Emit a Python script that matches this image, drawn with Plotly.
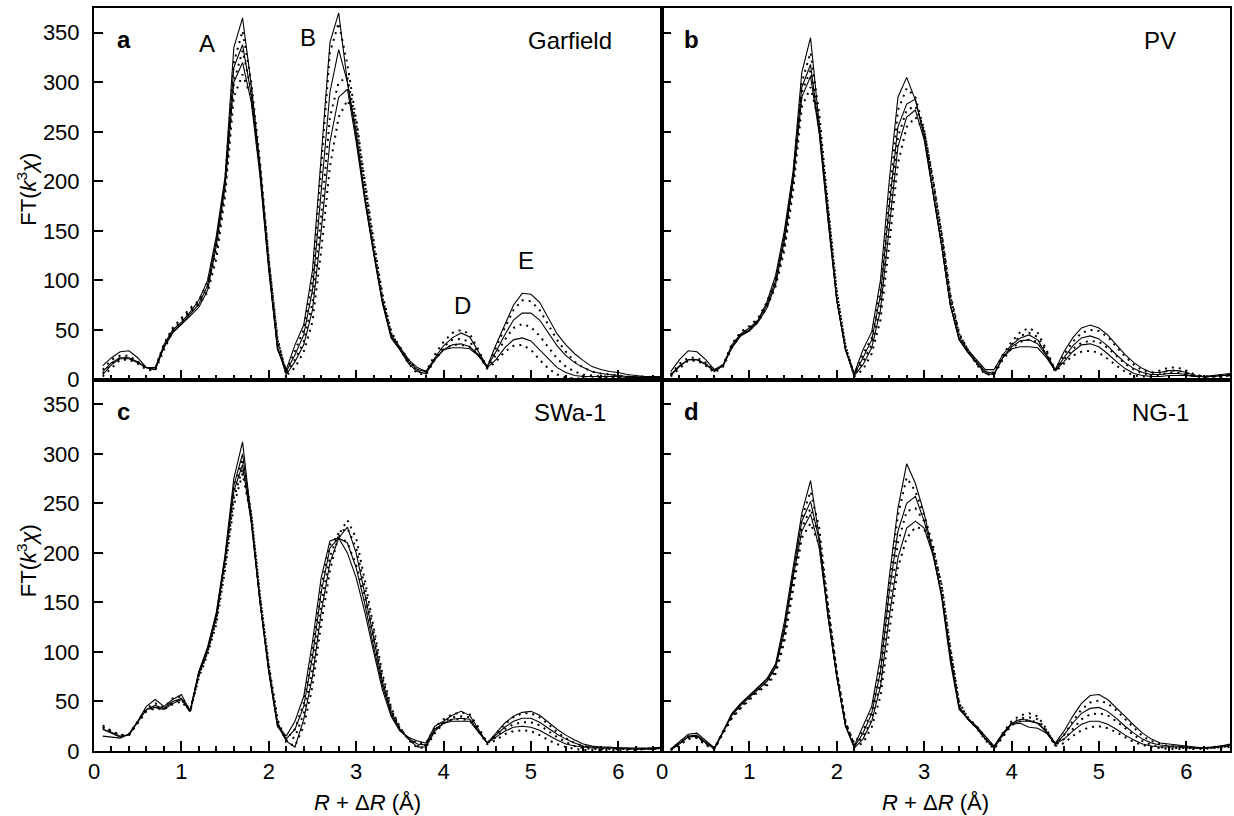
import plotly.graph_objects as go
from plotly.subplots import make_subplots

# R + dR grid (Angstrom)
r = [0.1, 0.2, 0.3, 0.4, 0.5, 0.6, 0.7, 0.8, 0.9, 1.0,
     1.1, 1.2, 1.3, 1.4, 1.5, 1.6, 1.7, 1.8, 1.9, 2.0,
     2.1, 2.2, 2.3, 2.4, 2.5, 2.6, 2.7, 2.8, 2.9, 3.0,
     3.1, 3.2, 3.3, 3.4, 3.5, 3.6, 3.7, 3.8, 3.9, 4.0,
     4.1, 4.2, 4.3, 4.4, 4.5, 4.6, 4.7, 4.8, 4.9, 5.0,
     5.1, 5.2, 5.3, 5.4, 5.5, 5.6, 5.7, 5.8, 5.9, 6.0,
     6.1, 6.2, 6.3, 6.4, 6.5]

# ---- a: Garfield ----
garfield_solid_1 = [14, 22, 28, 29, 22, 12, 12, 35, 50, 58,
                    68, 80, 100, 145, 205, 335, 365, 297, 215, 115,
                    30, 10, 35, 55, 110, 230, 340, 370, 300, 250,
                    185, 130, 80, 45, 33, 20, 12, 8, 22, 34,
                    42, 47, 43, 28, 13, 35, 55, 75, 87, 86,
                    78, 62, 46, 35, 26, 19, 13, 10, 8, 7,
                    5, 4, 3, 3, 3]
garfield_solid_2 = [8, 17, 22, 22, 18, 12, 10, 33, 48, 56,
                    66, 76, 95, 140, 200, 315, 338, 287, 210, 112,
                    32, 8, 25, 45, 90, 190, 290, 333, 300, 245,
                    182, 128, 78, 43, 31, 18, 10, 8, 20, 30,
                    35, 36, 33, 25, 13, 28, 45, 60, 67, 67,
                    60, 47, 34, 24, 17, 12, 8, 6, 5, 4,
                    3, 3, 2, 2, 2]
garfield_solid_3 = [5, 15, 21, 21, 17, 12, 10, 32, 47, 55,
                    64, 73, 90, 135, 195, 300, 320, 280, 205, 110,
                    32, 5, 18, 35, 70, 150, 240, 285, 293, 240,
                    180, 127, 77, 42, 30, 16, 8, 6, 20, 30,
                    32, 32, 31, 24, 12, 20, 32, 40, 42, 39,
                    30, 20, 12, 7, 4, 3, 3, 3, 3, 3,
                    2, 2, 2, 2, 2]
garfield_dotted_1 = [10, 20, 24, 24, 18, 12, 11, 36, 52, 62,
                     72, 80, 98, 138, 200, 320, 352, 300, 220, 122,
                     38, 8, 30, 50, 100, 215, 330, 360, 318, 262,
                     195, 138, 85, 48, 33, 20, 10, 8, 25, 38,
                     47, 50, 46, 30, 12, 32, 52, 70, 80, 79,
                     70, 55, 40, 28, 18, 12, 8, 6, 5, 4,
                     3, 3, 3, 2, 2]
garfield_dotted_2 = [6, 16, 22, 22, 17, 11, 10, 34, 50, 60,
                     70, 78, 93, 130, 193, 300, 332, 292, 215, 120,
                     40, 6, 20, 38, 78, 165, 265, 300, 305, 258,
                     195, 135, 83, 47, 31, 18, 8, 6, 22, 33,
                     40, 41, 38, 27, 12, 25, 40, 52, 56, 53,
                     44, 32, 21, 13, 8, 5, 4, 3, 3, 3,
                     2, 2, 2, 2, 2]
garfield_dotted_3 = [3, 12, 20, 20, 16, 10, 9, 30, 48, 58,
                     68, 76, 88, 122, 185, 285, 308, 285, 212, 120,
                     42, 4, 12, 28, 58, 130, 215, 265, 282, 262,
                     200, 140, 86, 48, 31, 16, 6, 5, 20, 30,
                     35, 35, 33, 25, 11, 18, 28, 34, 35, 30,
                     20, 11, 5, 2, 1, 1, 1, 2, 2, 2,
                     2, 2, 2, 2, 2]

# ---- b: PV ----
pv_solid_1 = [8, 20, 29, 28, 20, 10, 15, 35, 46, 52,
              60, 78, 105, 150, 210, 310, 345, 255, 165, 80,
              30, 6, 30, 48, 100, 200, 285, 305, 282, 248,
              190, 135, 75, 42, 30, 20, 10, 10, 25, 35,
              42, 45, 40, 25, 10, 28, 42, 52, 55, 52,
              45, 35, 25, 17, 11, 7, 7, 9, 9, 7,
              4, 3, 4, 5, 6]
pv_solid_2 = [5, 14, 20, 20, 16, 9, 14, 33, 45, 50,
              60, 75, 100, 145, 205, 295, 318, 250, 162, 80,
              30, 5, 22, 40, 85, 175, 255, 278, 283, 245,
              190, 135, 75, 40, 28, 18, 8, 6, 22, 33,
              39, 40, 36, 24, 9, 22, 34, 42, 44, 41,
              34, 25, 17, 11, 7, 5, 5, 6, 6, 5,
              3, 3, 3, 4, 5]
pv_solid_3 = [4, 13, 20, 20, 15, 8, 14, 32, 44, 49,
              58, 72, 96, 140, 200, 285, 306, 248, 160, 80,
              30, 4, 15, 32, 70, 150, 235, 265, 272, 242,
              190, 135, 75, 40, 27, 16, 6, 5, 22, 31,
              33, 33, 32, 22, 9, 18, 28, 35, 36, 33,
              26, 18, 11, 6, 4, 3, 3, 4, 4, 4,
              3, 3, 3, 4, 4]
pv_dotted_1 = [5, 16, 22, 22, 17, 9, 15, 36, 48, 54,
               62, 78, 102, 140, 205, 300, 330, 268, 175, 88,
               32, 5, 25, 42, 90, 185, 272, 294, 285, 252,
               200, 145, 82, 45, 30, 18, 8, 7, 25, 38,
               48, 52, 47, 30, 9, 25, 38, 47, 50, 49,
               43, 33, 23, 15, 9, 7, 9, 12, 12, 9,
               5, 3, 3, 4, 5]
pv_dotted_2 = [4, 13, 20, 20, 15, 8, 14, 34, 46, 52,
               60, 76, 98, 135, 198, 290, 312, 262, 172, 88,
               33, 4, 18, 35, 75, 160, 245, 272, 276, 252,
               202, 146, 84, 46, 30, 16, 6, 6, 23, 35,
               44, 47, 43, 28, 9, 20, 31, 37, 39, 38,
               32, 24, 16, 10, 6, 5, 7, 9, 9, 7,
               4, 3, 3, 4, 4]
pv_dotted_3 = [3, 11, 19, 19, 14, 7, 13, 32, 45, 50,
               58, 73, 94, 130, 190, 275, 295, 258, 170, 88,
               34, 3, 10, 26, 60, 135, 218, 255, 265, 250,
               203, 148, 86, 47, 30, 15, 5, 5, 20, 31,
               38, 40, 38, 25, 8, 16, 24, 28, 29, 27,
               21, 14, 8, 4, 3, 3, 5, 7, 7, 5,
               3, 2, 3, 3, 4]

# ---- c: SWa-1 ----
swa_solid_1 = [15, 14, 13, 17, 30, 45, 52, 45, 52, 57,
               40, 80, 105, 140, 198, 275, 312, 235, 150, 80,
               25, 15, 30, 55, 110, 175, 212, 215, 200, 175,
               140, 100, 62, 35, 20, 14, 10, 8, 25, 30,
               36, 40, 36, 22, 8, 18, 28, 35, 39, 40,
               36, 29, 22, 16, 11, 7, 5, 4, 4, 3,
               3, 3, 3, 3, 4]
swa_solid_2 = [22, 18, 14, 17, 30, 42, 46, 43, 50, 53,
               40, 80, 103, 138, 196, 268, 300, 233, 150, 80,
               25, 12, 22, 45, 95, 160, 205, 215, 210, 185,
               148, 105, 66, 37, 21, 13, 7, 6, 22, 28,
               32, 33, 32, 20, 8, 16, 24, 30, 33, 33,
               29, 23, 17, 12, 8, 5, 4, 3, 3, 3,
               3, 2, 2, 3, 3]
swa_solid_3 = [22, 19, 15, 16, 29, 42, 44, 42, 48, 52,
               40, 78, 100, 135, 193, 262, 289, 230, 150, 82,
               28, 10, 4, 32, 75, 140, 190, 215, 226, 200,
               158, 112, 70, 40, 22, 12, 4, 4, 20, 28,
               30, 30, 30, 19, 8, 14, 20, 24, 25, 24,
               21, 16, 11, 7, 5, 4, 3, 3, 3, 3,
               2, 2, 2, 2, 3]
swa_dotted_1 = [26, 20, 16, 17, 30, 43, 48, 44, 53, 55,
                41, 78, 102, 135, 192, 262, 295, 240, 156, 85,
                28, 12, 22, 48, 100, 165, 208, 218, 210, 188,
                155, 112, 70, 40, 22, 13, 8, 8, 24, 32,
                37, 39, 37, 24, 8, 17, 27, 34, 38, 38,
                34, 27, 19, 13, 8, 5, 4, 3, 3, 3,
                2, 2, 2, 3, 3]
swa_dotted_2 = [24, 19, 15, 16, 29, 41, 44, 43, 49, 52,
                40, 76, 100, 132, 188, 255, 285, 238, 156, 86,
                30, 10, 14, 38, 82, 148, 196, 220, 225, 205,
                165, 118, 74, 42, 23, 12, 5, 6, 21, 30,
                34, 35, 34, 22, 8, 14, 22, 27, 29, 29,
                26, 20, 14, 9, 5, 3, 2, 2, 2, 2,
                2, 2, 2, 2, 3]
swa_dotted_3 = [24, 20, 16, 16, 28, 40, 43, 42, 47, 50,
                40, 74, 98, 128, 183, 248, 280, 236, 155, 87,
                32, 9, 5, 25, 65, 128, 182, 218, 233, 215,
                172, 124, 78, 44, 24, 11, 3, 4, 18, 28,
                32, 32, 31, 20, 7, 11, 17, 20, 21, 20,
                16, 11, 7, 4, 2, 1, 1, 1, 1, 1,
                1, 1, 2, 2, 2]

# ---- d: NG-1 ----
ng_solid_1 = [2, 10, 17, 18, 10, 3, 20, 38, 48, 56,
              64, 73, 88, 130, 185, 240, 273, 215, 135, 75,
              25, 5, 25, 45, 95, 175, 245, 290, 270, 240,
              200, 155, 90, 42, 33, 25, 15, 5, 18, 28,
              32, 31, 28, 20, 8, 20, 35, 48, 56, 57,
              52, 44, 35, 26, 18, 12, 8, 7, 6, 5,
              4, 3, 4, 5, 7]
ng_solid_2 = [2, 8, 15, 16, 9, 3, 20, 37, 47, 55,
              63, 72, 86, 125, 180, 232, 252, 212, 138, 75,
              25, 4, 18, 38, 80, 160, 222, 250, 257, 232,
              200, 158, 95, 44, 32, 24, 13, 4, 17, 27,
              30, 30, 28, 19, 7, 16, 28, 38, 43, 44,
              40, 33, 25, 18, 12, 8, 6, 5, 5, 4,
              3, 3, 4, 5, 6]
ng_solid_3 = [1, 7, 14, 15, 8, 2, 19, 36, 46, 54,
              62, 70, 84, 120, 175, 222, 239, 205, 136, 75,
              26, 3, 12, 30, 65, 135, 195, 225, 232, 225,
              198, 158, 97, 45, 32, 23, 12, 3, 16, 27,
              28, 24, 23, 18, 7, 12, 20, 27, 30, 30,
              27, 22, 16, 11, 7, 5, 4, 4, 4, 3,
              3, 3, 3, 4, 5]
ng_dotted_1 = [1, 8, 15, 15, 8, 3, 20, 35, 45, 54,
               62, 70, 82, 118, 172, 235, 262, 225, 148, 80,
               28, 8, 20, 40, 85, 168, 238, 276, 262, 238,
               208, 165, 100, 47, 34, 25, 14, 4, 18, 30,
               36, 38, 35, 22, 6, 16, 30, 42, 49, 51,
               48, 41, 32, 23, 15, 10, 7, 5, 4, 4,
               3, 3, 4, 5, 6]
ng_dotted_2 = [1, 7, 13, 14, 7, 2, 19, 34, 44, 53,
               61, 68, 80, 115, 168, 225, 245, 215, 145, 80,
               29, 6, 14, 32, 70, 145, 210, 242, 245, 232,
               206, 166, 102, 48, 33, 24, 12, 3, 16, 28,
               33, 34, 32, 21, 6, 12, 22, 32, 37, 38,
               36, 30, 23, 16, 10, 6, 4, 3, 3, 3,
               3, 3, 3, 4, 5]
ng_dotted_3 = [1, 6, 12, 13, 6, 2, 18, 33, 43, 52,
               60, 66, 78, 110, 162, 215, 230, 208, 142, 80,
               30, 4, 8, 24, 55, 120, 185, 215, 226, 224,
               204, 168, 104, 50, 33, 23, 11, 2, 14, 26,
               30, 31, 29, 20, 5, 8, 15, 21, 24, 25,
               23, 19, 14, 9, 6, 4, 3, 2, 2, 2,
               2, 2, 3, 3, 4]

panels = [
    (1, 1, "a", "Garfield", [garfield_solid_1, garfield_solid_2, garfield_solid_3],
     [garfield_dotted_1, garfield_dotted_2, garfield_dotted_3]),
    (1, 2, "b", "PV", [pv_solid_1, pv_solid_2, pv_solid_3],
     [pv_dotted_1, pv_dotted_2, pv_dotted_3]),
    (2, 1, "c", "SWa-1", [swa_solid_1, swa_solid_2, swa_solid_3],
     [swa_dotted_1, swa_dotted_2, swa_dotted_3]),
    (2, 2, "d", "NG-1", [ng_solid_1, ng_solid_2, ng_solid_3],
     [ng_dotted_1, ng_dotted_2, ng_dotted_3]),
]

# peak labels in panel a
peak_names = ["A", "B", "D", "E"]
peak_r = [1.29, 2.45, 4.22, 4.94]
peak_ft = [339, 345, 75, 120]

FONT = "Liberation Sans, Arial, Helvetica, sans-serif"

fig = make_subplots(rows=2, cols=2, horizontal_spacing=0, vertical_spacing=0)

for row, col, letter, name, solids, dots in panels:
    for ys in dots:
        fig.add_trace(
            go.Scatter(x=r, y=ys, mode="lines",
                       line=dict(color="black", width=2, dash="2px,5px"),
                       showlegend=False, hoverinfo="skip"),
            row=row, col=col,
        )
    for ys in solids:
        fig.add_trace(
            go.Scatter(x=r, y=ys, mode="lines",
                       line=dict(color="black", width=1.1),
                       showlegend=False, hoverinfo="skip"),
            row=row, col=col,
        )
    idx = (row - 1) * 2 + col
    xr = "x" if idx == 1 else f"x{idx}"
    yr = "y" if idx == 1 else f"y{idx}"
    fig.add_annotation(x=0.34, y=343, xref=xr, yref=yr, text=f"<b>{letter}</b>",
                       showarrow=False, font=dict(family=FONT, size=24, color="black"))
    fig.add_annotation(x=5.45 if col == 1 else 5.7, y=342, xref=xr, yref=yr, text=name,
                       showarrow=False, font=dict(family=FONT, size=24, color="black"))

for txt, px, py in zip(peak_names, peak_r, peak_ft):
    fig.add_annotation(x=px, y=py, xref="x", yref="y", text=txt, showarrow=False,
                       font=dict(family=FONT, size=24, color="black"))

# axis titles
for xr_dom, yr_dom in [("x domain", "y domain"), ("x3 domain", "y3 domain")]:
    fig.add_annotation(x=0, y=0.5, xref=xr_dom, yref=yr_dom, xshift=-67, yshift=4,
                       xanchor="center", yanchor="middle",
                       text="FT(<i>k</i><sup>3</sup><i>χ</i>)", textangle=-90,
                       showarrow=False, font=dict(family=FONT, size=22, color="black"))
for xr_dom in ["x3 domain", "x4 domain"]:
    fig.add_annotation(x=0.5, y=0, xref=xr_dom, yref="paper", yshift=-51, xshift=-11,
                       xanchor="center", yanchor="middle",
                       text="<i>R</i> + Δ<i>R</i> (Å)", showarrow=False,
                       font=dict(family=FONT, size=22, color="black"))

fig.update_xaxes(
    range=[0, 6.5], dtick=1, tick0=0,
    ticks="inside", ticklen=10, tickwidth=1.5, tickcolor="black",
    minor=dict(dtick=0.2, ticks="inside", ticklen=5, tickwidth=1.5, tickcolor="black"),
    showline=True, linecolor="black", linewidth=2, mirror=True,
    showgrid=False, zeroline=False,
    tickfont=dict(family=FONT, size=22, color="black"),
)
fig.update_yaxes(
    range=[0, 375], dtick=50, tick0=0,
    ticks="inside", ticklen=9, tickwidth=1.5, tickcolor="black",
    showline=True, linecolor="black", linewidth=2, mirror=True,
    showgrid=False, zeroline=False, ticklabelstandoff=8,
    tickfont=dict(family=FONT, size=22, color="black"),
)
fig.update_xaxes(showticklabels=False, row=1)
fig.update_yaxes(showticklabels=False, col=2)

fig.update_layout(
    width=1234, height=816,
    margin=dict(l=94, r=2, t=8, b=65),
    plot_bgcolor="white", paper_bgcolor="white",
    showlegend=False,
)

# the page body has a default 8px margin; drop it so the figure fills the window
fig.write_html("out.html", config={"displayModeBar": False},
               post_script="document.body.style.margin='0px';")
